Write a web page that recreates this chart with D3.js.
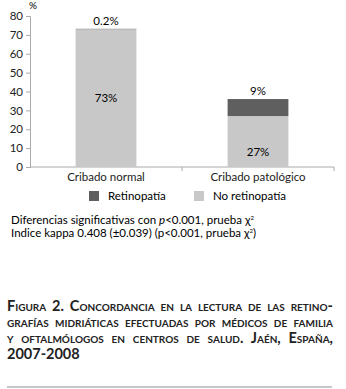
<!DOCTYPE html>
<html>
<head>
<meta charset="utf-8">
<script src="https://cdn.jsdelivr.net/npm/d3@7"></script>
<style>
  body { margin: 0; background: #fff; font-family: Lato, "Open Sans", sans-serif; color: #222; }
  #cap { position: absolute; left: 7px; top: 298px; width: 326px; font-weight: bold; font-variant: small-caps;
         font-size: 14.5px; line-height: 15.9px; color: #222; }
  #cap div { white-space: nowrap; text-align: justify; text-align-last: justify; }
  #cap div.last { text-align-last: left; }
  #rule { position: absolute; left: 7px; top: 386px; width: 325px; height: 2px; background: #c8c8c8; }
</style>
</head>
<body>
<svg width="346" height="290"></svg>
<div id="cap"></div>
<div id="rule"></div>
<script>
var categories = ["Cribado normal", "Cribado patológico"];
var noRetino = [73, 27];       // lower segment
var retino = [0.2, 9];         // upper segment
var yTicks = [0, 10, 20, 30, 40, 50, 60, 70, 80];
var legendNames = ["Retinopatía", "No retinopatía"];
var captionLines = [
  "Figura 2. Concordancia en la lectura de las retino-",
  "grafías midriáticas efectuadas por médicos de familia",
  "y oftalmólogos en centros de salud. Jaén, España,",
  "2007-2008"
];

var colors = { retino: "#5f5f5f", noRetino: "#c8c8c8" };

var svg = d3.select("svg");

var x = d3.scaleBand().domain(categories).range([30, 334]).padding(0);
var y = d3.scaleLinear().domain([0, 80]).range([167, 16]);
var barW = x.bandwidth() * 0.4;

// y axis
var yAxis = svg.append("g")
  .attr("transform", "translate(30,0)")
  .call(d3.axisLeft(y).tickValues(yTicks).tickSize(4).tickFormat(d3.format("d")));
yAxis.select(".domain").attr("stroke", "#aaa");
yAxis.selectAll(".tick line").attr("stroke", "#aaa");
yAxis.selectAll("text").attr("font-size", 11.5).attr("fill", "#222").attr("font-family", "Lato, sans-serif");

// x axis: line with ticks at band boundaries
svg.append("line").attr("x1", 30).attr("x2", 334).attr("y1", y(0)).attr("y2", y(0)).attr("stroke", "#aaa");
svg.selectAll(".xt").data([x(categories[1]), 334]).enter().append("line")
  .attr("x1", d => d).attr("x2", d => d).attr("y1", y(0)).attr("y2", y(0) + 4).attr("stroke", "#aaa");
svg.selectAll(".xl").data(categories).enter().append("text")
  .attr("x", d => x(d) + x.bandwidth() / 2).attr("y", y(0) + 14)
  .attr("text-anchor", "middle").attr("font-size", 11.5).attr("fill", "#222").text(d => d);

svg.append("text").attr("x", 33).attr("y", 9).attr("text-anchor", "middle").attr("font-size", 10).text("%");

// bars
var g = svg.append("g");
categories.forEach(function (c, i) {
  var bx = x(c) + (x.bandwidth() - barW) / 2;
  g.append("rect").attr("x", bx).attr("width", barW)
    .attr("y", y(noRetino[i])).attr("height", y(0) - y(noRetino[i])).attr("fill", colors.noRetino);
  g.append("rect").attr("x", bx).attr("width", barW)
    .attr("y", y(noRetino[i] + retino[i])).attr("height", y(noRetino[i]) - y(noRetino[i] + retino[i]))
    .attr("fill", colors.retino);
  // labels
  var top = noRetino[i] + retino[i];
  g.append("text").attr("x", x(c) + x.bandwidth() / 2).attr("y", y(top) - 4)
    .attr("text-anchor", "middle").attr("font-size", 11.5).text(String(retino[i]) + "%");
  g.append("text").attr("x", x(c) + x.bandwidth() / 2)
    .attr("y", i === 0 ? y(noRetino[i] / 2) + 4 : y(noRetino[i] * 0.3) + 4)
    .attr("text-anchor", "middle").attr("font-size", 11.5).text(noRetino[i] + "%");
});

// legend
var lg = svg.selectAll(".lg").data(legendNames).enter().append("g")
  .attr("transform", (d, i) => "translate(" + [89, 194][i] + ",191)");
lg.append("rect").attr("width", 10).attr("height", 10).attr("fill", (d, i) => i === 0 ? colors.retino : colors.noRetino);
lg.append("text").attr("x", 19).attr("y", 9).attr("font-size", 11.5).text(d => d);

// notes
var n1 = svg.append("text").attr("x", 11).attr("y", 224).attr("font-size", 11.5);
n1.append("tspan").text("Diferencias significativas con ");
n1.append("tspan").attr("font-style", "italic").text("p");
n1.append("tspan").text("<0.001, prueba χ");
n1.append("tspan").attr("font-size", 6).attr("dy", -4).text("2");
var n2 = svg.append("text").attr("x", 11).attr("y", 237).attr("font-size", 11.5);
n2.append("tspan").text("Indice kappa 0.408 (±0.039) (p<0.001, prueba χ");
n2.append("tspan").attr("font-size", 6).attr("dy", -4).text("2");
n2.append("tspan").attr("dy", 4).text(")");

d3.select("#cap").selectAll("div").data(captionLines).enter().append("div")
  .attr("class", (d, i) => i === captionLines.length - 1 ? "last" : null)
  .text(d => d);
</script>
</body>
</html>
